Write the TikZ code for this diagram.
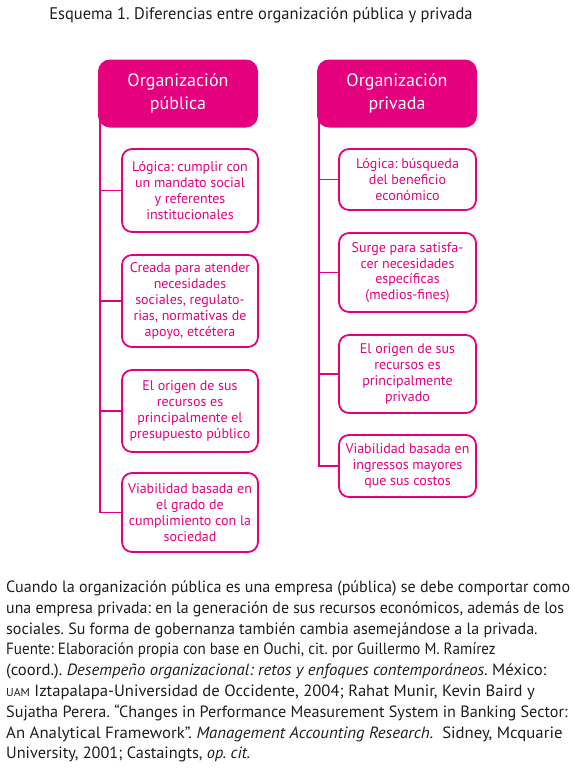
\documentclass[tikz,border=0pt]{standalone}
\usepackage{fontspec}
\setmainfont{PT Sans}
\usetikzlibrary{backgrounds}
\definecolor{pinkM}{RGB}{229,0,126}
\definecolor{txtK}{RGB}{30,30,30}
\frenchspacing
\begin{document}
\begin{tikzpicture}[x=1pt,y=-1pt,
  hdr/.style={fill=pinkM, rounded corners=12pt, text=white, align=center, minimum width=160pt, minimum height=68pt, inner sep=0pt, font=\fontsize{18}{22.5}\selectfont},
  pbox/.style={draw=pinkM, line width=1.8pt, rounded corners=10pt, text=pinkM, align=center, inner sep=0pt, font=\fontsize{14}{15.8}\selectfont},
  conn/.style={draw=pinkM, line width=1.8pt},
  note/.style={anchor=base west, text=txtK, inner sep=0pt, font=\fontsize{16.3}{20.8}\selectfont}]
\useasboundingbox (0,0) rectangle (577,774);
\node[font=\fontsize{16.8}{20}\selectfont, text=txtK, anchor=base] (title) at (261,19.5) {\scalebox{0.98}[1]{Esquema 1. Diferencias entre organización pública y privada}};
% headers
\node[hdr] (lh) at (178,93.5) {Organización\\pública};
\node[hdr] (rh) at (397,93.5) {Organización\\privada};
% left boxes
\node[pbox, minimum width=136pt, minimum height=83pt] (l1) at (190,190.5) {Lógica: cumplir con\\un mandato social\\y referentes\\institucionales};
\node[pbox, minimum width=136pt, minimum height=92pt] (l2) at (190,301) {Creada para atender\\necesidades\\sociales, regulato-\\rias, normativas de\\apoyo, etcétera};
\node[pbox, minimum width=136pt, minimum height=82pt] (l3) at (190,411) {El origen de sus\\recursos es\\principalmente el\\presupuesto público};
\node[pbox, minimum width=136pt, minimum height=79pt] (l4) at (190,512.5) {Viabilidad basada en\\el grado de\\cumplimiento con la\\sociedad};
% right boxes
\node[pbox, minimum width=137pt, minimum height=61pt] (r1) at (407.5,179.5) {Lógica: búsqueda\\del beneficio\\económico};
\node[pbox, minimum width=137pt, minimum height=79pt] (r2) at (407.5,272.5) {Surge para satisfa-\\cer necesidades\\específicas\\(medios-fines)};
\node[pbox, minimum width=137pt, minimum height=78pt] (r3) at (407.5,374) {El origen de sus\\recursos es\\principalmente\\privado};
\node[pbox, minimum width=137pt, minimum height=62pt] (r4) at (407.5,466) {Viabilidad basada en\\ingressos mayores\\que sus costos};
% connectors
\coordinate (lv) at (100,118);
\coordinate (rv) at (319,118);
\begin{scope}[on background layer]
\draw[conn] (lv) |- (l4.west);
\draw[conn] (lv |- l1.west) -- (l1.west);
\draw[conn] (lv |- l2.west) -- (l2.west);
\draw[conn] (lv |- l3.west) -- (l3.west);
\draw[conn] (rv) |- (r4.west);
\draw[conn] (rv |- r1.west) -- (r1.west);
\draw[conn] (rv |- r2.west) -- (r2.west);
\draw[conn] (rv |- r3.west) -- (r3.west);
\end{scope}
% note
\node[note] (n1) at (6,592.5) {\scalebox{0.986}[1]{Cuando la organización pública es una empresa (pública) se debe comportar como}};
\node[note] (n2) at (6,613.3) {\scalebox{0.974}[1]{una empresa privada: en la generación de sus recursos económicos, además de los}};
\node[note] (n3) at (6,634.1) {\scalebox{0.983}[1]{sociales. Su forma de gobernanza también cambia asemejándose a la privada.}};
\node[note] (n4) at (6,654.9) {\scalebox{0.925}[1]{Fuente: Elaboración propia con base en Ouchi, cit. por Guillermo M. Ramírez}};
\node[note] (n5) at (6,675.7) {\scalebox{1.025}[1]{(coord.). \textit{Desempeño organizacional: retos y enfoques contemporáneos.} México:}};
\node[note] (n6) at (6,696.5) {\scalebox{1.02}[1]{{\fontsize{11.5}{11.5}\selectfont UAM} Iztapalapa-Universidad de Occidente, 2004; Rahat Munir, Kevin Baird y}};
\node[note] (n7) at (6,717.3) {\scalebox{0.993}[1]{Sujatha Perera. “Changes in Performance Measurement System in Banking Sector:}};
\node[note] (n8) at (6,738.1) {\scalebox{1.03}[1]{An Analytical Framework”. \textit{Management Accounting Research.}\ \ Sidney, Mcquarie}};
\node[note] (n9) at (6,758.9) {University, 2001; Castaingts, \textit{op. cit.}};
\end{tikzpicture}
\end{document}
